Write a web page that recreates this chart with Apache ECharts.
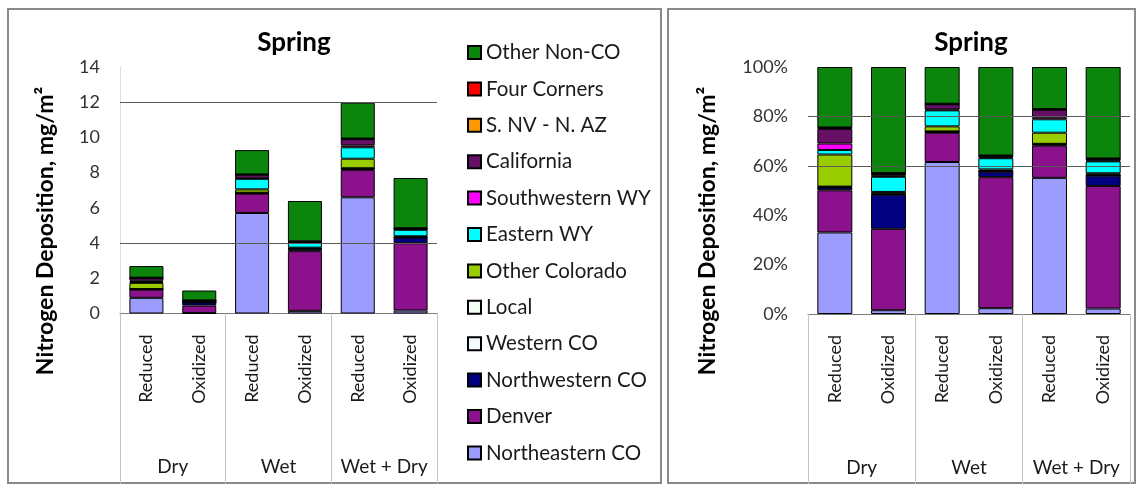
<!DOCTYPE html>
<html>
<head>
<meta charset="utf-8">
<script src="https://cdn.jsdelivr.net/npm/echarts@6/dist/echarts.min.js"></script>
<style>
  html, body { margin: 0; padding: 0; background: #ffffff; }
  #chart { width: 1139px; height: 485px; }
</style>
</head>
<body>
<div id="chart"></div>
<script>
// Spring nitrogen deposition by source region, mg/m2
const subCategories = ['Reduced', 'Oxidized', 'Reduced', 'Oxidized', 'Reduced', 'Oxidized'];
const groups = ['Dry', 'Wet', 'Wet + Dry'];

// Values per source, ordered: Dry Red, Dry Ox, Wet Red, Wet Ox, Wet+Dry Red, Wet+Dry Ox
const northeasternCO = [0.89, 0.02, 5.71, 0.15, 6.60, 0.17];
const denver         = [0.46, 0.43, 1.10, 3.39, 1.56, 3.82];
const northwesternCO = [0.03, 0.18, 0.03, 0.14, 0.06, 0.32];
const westernCO      = [0.005, 0.003, 0.01, 0.01, 0.015, 0.013];
const local          = [0.005, 0.002, 0.01, 0.01, 0.015, 0.012];
const otherColorado  = [0.35, 0.01, 0.19, 0.04, 0.54, 0.05];
const easternWY      = [0.05, 0.08, 0.60, 0.29, 0.65, 0.37];
const southwesternWY = [0.07, 0.005, 0.03, 0.02, 0.10, 0.025];
const california     = [0.16, 0.01, 0.20, 0.03, 0.36, 0.04];
const sNvNAz         = [0.01, 0.002, 0.01, 0.01, 0.02, 0.012];
const fourCorners    = [0.005, 0.003, 0.01, 0.01, 0.015, 0.013];
const otherNonCO     = [0.66, 0.56, 1.38, 2.29, 2.04, 2.85];

// Stack order, bottom to top
const sourceNames = ['Northeastern CO', 'Denver', 'Northwestern CO', 'Western CO', 'Local',
  'Other Colorado', 'Eastern WY', 'Southwestern WY', 'California', 'S. NV - N. AZ',
  'Four Corners', 'Other Non-CO'];
const sourceValues = [northeasternCO, denver, northwesternCO, westernCO, local,
  otherColorado, easternWY, southwesternWY, california, sNvNAz, fourCorners, otherNonCO];
const sourceColors = ['#9c9cff', '#8c118c', '#000080', '#f4fbff', '#f2fff2',
  '#9acd00', '#00ffff', '#ff00ff', '#651065', '#ff9900', '#ff0000', '#0b850b'];

// Share of each column total, in percent
const columnTotals = subCategories.map((_, j) =>
  sourceValues.reduce((sum, arr) => sum + arr[j], 0));
const sourcePercents = sourceValues.map(arr => arr.map((v, j) => v / columnTotals[j] * 100));

const FONT = 'Lato';
const textDark = '#1a1a1a';

function barSeries(values, i, stack, xIdx, yIdx, width, withGrid, gridValues) {
  const s = {
    name: sourceNames[i],
    type: 'bar',
    stack: stack,
    xAxisIndex: xIdx,
    yAxisIndex: yIdx,
    barWidth: width,
    data: values,
    itemStyle: { color: sourceColors[i], borderColor: '#000', borderWidth: 1 },
    emphasis: { disabled: true }
  };
  if (withGrid) {
    s.markLine = {
      silent: true,
      symbol: 'none',
      label: { show: false },
      lineStyle: { color: '#5a5a5a', width: 1, type: 'solid' },
      data: gridValues.map(v => ({ yAxis: v }))
    };
  }
  return s;
}

const series = [];
sourceValues.forEach((vals, i) => {
  series.push(barSeries(vals, i, 'abs', 0, 0, 34, i === 0, [4, 12]));
});
sourcePercents.forEach((vals, i) => {
  series.push(barSeries(vals, i, 'pct', 2, 1, 35, i === 0, [60, 80]));
});

function subAxis(gridIndex) {
  return {
    type: 'category', gridIndex: gridIndex, data: subCategories, position: 'bottom',
    axisLine: { show: true, lineStyle: { color: '#7a7a7a', width: 1 } },
    axisTick: { show: false },
    axisLabel: { interval: 0, rotate: 90, margin: 21, fontSize: 18, color: textDark, fontFamily: FONT }
  };
}
function groupAxis(gridIndex) {
  return {
    type: 'category', gridIndex: gridIndex, data: groups, position: 'bottom',
    axisLine: { show: false },
    axisTick: { show: true, interval: 0, length: 170, lineStyle: { color: '#c4c4c4', width: 1 } },
    axisLabel: { interval: 0, margin: 144, fontSize: 19, color: textDark, fontFamily: FONT }
  };
}

const yTitle = 'Nitrogen Deposition, mg/m²';

const option = {
  animation: false,
  backgroundColor: '#ffffff',
  textStyle: { fontFamily: FONT },
  title: [
    { text: 'Spring', left: 289, top: 25, textAlign: 'center',
      textStyle: { fontSize: 26, fontWeight: 'bold', color: '#000', fontFamily: FONT } },
    { text: 'Spring', left: 966, top: 25, textAlign: 'center',
      textStyle: { fontSize: 26, fontWeight: 'bold', color: '#000', fontFamily: FONT } }
  ],
  legend: {
    orient: 'vertical', left: 467, top: 42, padding: 0,
    itemWidth: 13, itemHeight: 13, itemGap: 15.4,
    icon: 'rect',
    data: sourceNames.slice().reverse(),
    textStyle: { fontSize: 20.5, lineHeight: 21, color: textDark, fontFamily: FONT },
    selectedMode: false
  },
  grid: [
    { left: 120, top: 67, width: 317, height: 246.5 },
    { left: 808, top: 67, width: 322, height: 247 }
  ],
  xAxis: [subAxis(0), groupAxis(0), subAxis(1), groupAxis(1)],
  yAxis: [
    {
      type: 'value', gridIndex: 0, min: 0, max: 14, interval: 2,
      splitLine: { show: false },
      axisLine: { show: true, lineStyle: { color: '#dedede' } },
      axisTick: { show: false },
      axisLabel: { margin: 20, fontSize: 18, color: '#333', fontFamily: FONT }
    },
    {
      type: 'value', gridIndex: 1, min: 0, max: 100, interval: 20,
      splitLine: { show: false },
      axisLine: { show: false },
      axisTick: { show: false },
      axisLabel: { margin: 20, fontSize: 18, color: '#333', fontFamily: FONT, formatter: '{value}%' }
    }
  ],
  graphic: [
    { type: 'rect', silent: true, z: -1,
      shape: { x: 8, y: 9, width: 653, height: 474 },
      style: { fill: 'none', stroke: '#8a8a8a', lineWidth: 2 } },
    { type: 'rect', silent: true, z: -1,
      shape: { x: 668, y: 9, width: 467, height: 474 },
      style: { fill: 'none', stroke: '#8a8a8a', lineWidth: 2 } },
    { type: 'text', silent: true, x: 46, y: 231, rotation: Math.PI / 2,
      style: { text: yTitle, fontSize: 23, fontWeight: 'bold', fontFamily: FONT,
        fill: '#000', align: 'center', verticalAlign: 'middle' } },
    { type: 'text', silent: true, x: 708, y: 231, rotation: Math.PI / 2,
      style: { text: yTitle, fontSize: 23, fontWeight: 'bold', fontFamily: FONT,
        fill: '#000', align: 'center', verticalAlign: 'middle' } }
  ],
  series: series
};

const chart = echarts.init(document.getElementById('chart'), null, { renderer: 'canvas' });
chart.setOption(option);
</script>
</body>
</html>
